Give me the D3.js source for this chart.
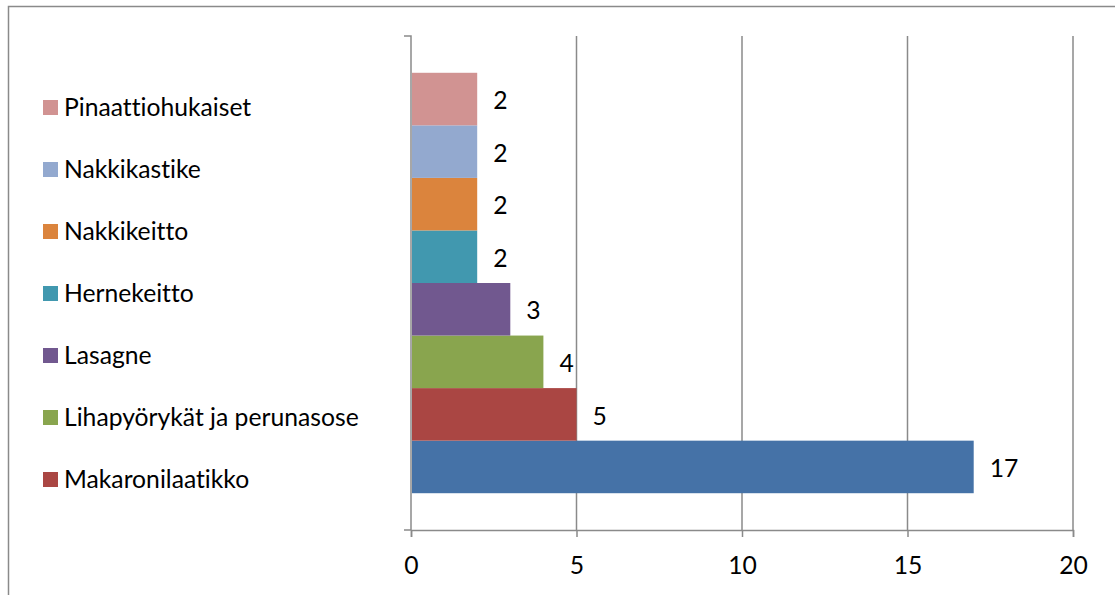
<!DOCTYPE html>
<html><head><meta charset="utf-8">
<script src="https://cdn.jsdelivr.net/npm/d3@7"></script>
<style>body{margin:0;background:#fff;}svg{display:block;}text{font-variant-ligatures:none;font-feature-settings:"liga" 0,"clig" 0;}</style>
</head><body>
<svg id="c" width="1115" height="595"></svg>
<script>
// series listed from bottom bar to top bar
const seriesNames = ["", "Makaronilaatikko", "Lihapyörykät ja perunasose", "Lasagne", "Hernekeitto", "Nakkikeitto", "Nakkikastike", "Pinaattiohukaiset"];
const seriesValues = [17, 5, 4, 3, 2, 2, 2, 2];
const seriesColors = ["#4572A7", "#AA4643", "#89A54E", "#71588F", "#4198AF", "#DB843D", "#93A9CF", "#D19392"];
const xTicks = [0, 5, 10, 15, 20];

const FONT = "Lato, 'Liberation Sans', sans-serif";
const FS = 24.7;
const svg = d3.select("#c");
const L = 411, R = 1073, T = 36, B = 530;
const grey = "#8a8a8a";

// outer chart border (top and left visible)
svg.append("path").attr("d", "M8.5,1115 V6.5 H1115").attr("fill", "none").attr("stroke", grey).attr("stroke-width", 1.5);

const x = d3.scaleLinear().domain([0, 20]).range([L, R]);
const y = d3.scaleBand().domain(d3.range(seriesValues.length)).range([B, T]).paddingOuter(0.7).paddingInner(0);

// gridlines
svg.append("g").selectAll("line").data(xTicks.slice(1)).join("line")
  .attr("x1", d => x(d)).attr("x2", d => x(d)).attr("y1", T).attr("y2", B)
  .attr("stroke", grey).attr("stroke-width", 1.5);

// x axis
const xa = svg.append("g").attr("transform", `translate(0,${B})`)
  .call(d3.axisBottom(x).tickValues(xTicks).tickSize(7).tickPadding(19).tickFormat(d3.format("d")));
xa.select(".domain").attr("stroke", grey).attr("stroke-width", 1.5);
xa.selectAll(".tick line").attr("stroke", grey).attr("stroke-width", 1.5);
xa.selectAll("text").attr("font-family", FONT).attr("font-size", FS).attr("fill", "#000");

// y axis line with outer ticks
svg.append("path").attr("d", `M${L-7},${T} H${L} V${B} H${L-7}`).attr("fill", "none").attr("stroke", grey).attr("stroke-width", 1.5);

// bars
svg.append("g").selectAll("rect").data(seriesValues).join("rect")
  .attr("x", x(0) + 1).attr("y", (d, i) => y(i)).attr("height", y.bandwidth())
  .attr("width", d => x(d) - x(0) - 1).attr("fill", (d, i) => seriesColors[i]);

// data labels
svg.append("g").selectAll("text").data(seriesValues).join("text")
  .attr("x", d => x(d) + 16).attr("y", (d, i) => y(i) + y.bandwidth() / 2 + 1.5)
  .attr("dy", "0.35em").attr("font-family", FONT).attr("font-size", FS).attr("fill", "#000")
  .text(d => d);

// legend (top to bottom), entries with a name only
const legendItems = seriesNames.map((n, i) => ({ n, c: seriesColors[i] })).reverse().filter(d => d.n);
const ly = d3.scalePoint().domain(d3.range(legendItems.length)).range([107.5, 107.5 + 62 * (legendItems.length - 1)]);
const lg = svg.append("g").selectAll("g").data(legendItems).join("g")
  .attr("transform", (d, i) => `translate(43,${ly(i)})`);
lg.append("rect").attr("x", 0).attr("y", -7.5).attr("width", 15).attr("height", 15).attr("fill", d => d.c);
lg.append("text").attr("x", 21).attr("y", 0).attr("dy", "0.35em")
  .attr("font-family", FONT).attr("font-size", FS).attr("fill", "#000").text(d => d.n);
</script>
</body></html>
